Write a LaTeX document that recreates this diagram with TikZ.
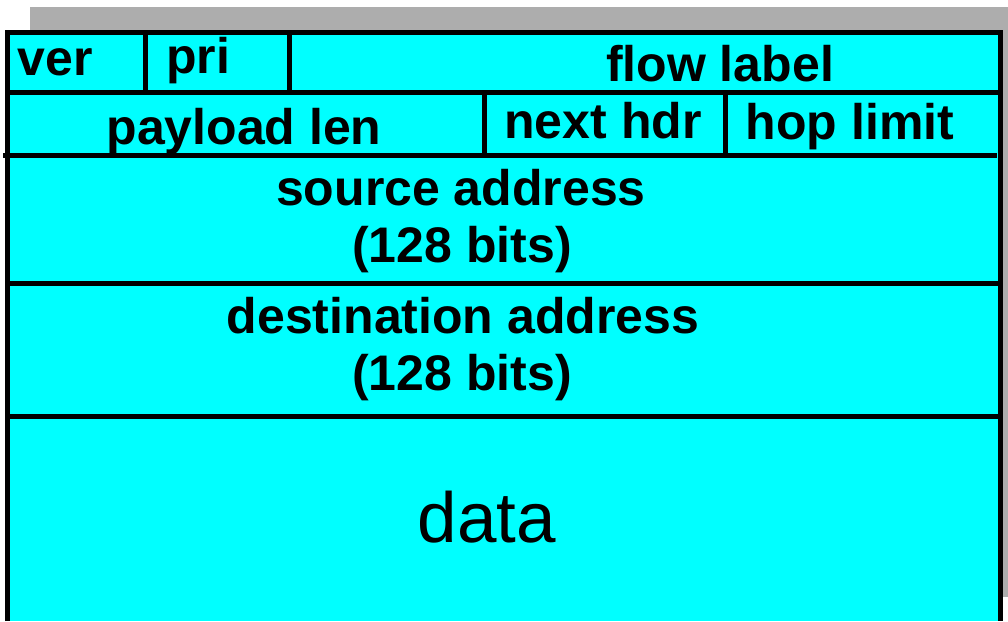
\documentclass[tikz,border=0pt]{standalone}
\usepackage{fontspec}
\setmainfont{Liberation Sans}
\definecolor{fieldcyan}{HTML}{00FFFF}
\definecolor{shadegray}{HTML}{ADADAD}
\tikzset{
  rule/.style={line width=5pt,draw=black},
  field/.style={inner sep=0pt,anchor=base,font=\fontsize{50}{56}\selectfont\bfseries},
}
\begin{document}
\begin{tikzpicture}[x=1pt,y=-1pt]
  \useasboundingbox (0,0) rectangle (1008,621);
  \fill[shadegray] (30,7) rectangle (1008,597);
  \fill[fieldcyan] (7.5,32.5) rectangle (1000,621);
  \draw[rule] (7.5,621) -- (7.5,32.5) -- (1000,32.5) -- (1000,621);
  \draw[rule] (7.5,92.5) -- (1000,92.5);
  \draw[rule] (3,155) -- (997,155);
  \draw[rule] (7.5,283) -- (1000,283);
  \draw[rule] (7.5,416) -- (1000,416);
  \draw[rule] (145,32.5) -- (145,92.5);
  \draw[rule] (289,32.5) -- (289,92.5);
  \draw[rule] (484,92.5) -- (484,155);
  \draw[rule] (725,92.5) -- (725,155);
  \node[field] (ver) at (55,75) {ver};
  \node[field] (pri) at (198,73) {pri};
  \node[field] (flow) at (720,81) {flow label};
  \node[field] (plen) at (244,144) {payload len};
  \node[field] (next) at (603,138) {next hdr};
  \node[field] (hop) at (850,139) {hop limit};
  \node[field] (src) at (461,205) {source address};
  \node[field] (srcbits) at (462,262) {(128 bits)};
  \node[field] (dst) at (463,333) {destination address};
  \node[field] (dstbits) at (462,390) {(128 bits)};
  \node[field,font=\fontsize{71}{80}\selectfont] (data) at (487,542) {data};
\end{tikzpicture}
\end{document}
